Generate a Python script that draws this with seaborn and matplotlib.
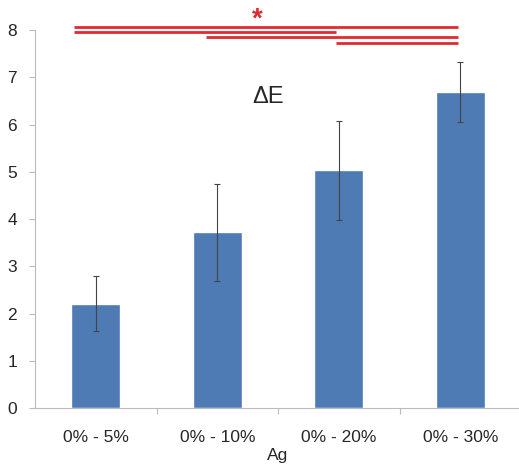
import numpy as np
import pandas as pd
import matplotlib
matplotlib.use('Agg')
import matplotlib.pyplot as plt
import seaborn as sns

# data
groups = ['0% - 5%', '0% - 10%', '0% - 20%', '0% - 30%']
delta_e = [2.21, 3.72, 5.03, 6.69]
errors = [0.58, 1.03, 1.05, 0.64]

# significance bars: (start, end, height)
sig_start = [-0.18, -0.18, 0.91, 1.98]
sig_end = [2.98, 1.98, 2.98, 2.98]
sig_y = [8.06, 7.96, 7.85, 7.73]

sns.set_style('white')
plt.rcParams['font.family'] = ['Liberation Sans', 'DejaVu Sans']

df = pd.DataFrame({'group': groups, 'dE': delta_e})

fig = plt.figure(figsize=(5.19, 4.66), dpi=100)
ax = fig.add_axes([35 / 519, 58 / 466, 486 / 519, 378 / 466])

sns.barplot(data=df, x='group', y='dE', color='#4e7bb3', saturation=1,
            width=0.4, errorbar=None, ax=ax)
ax.errorbar(np.arange(len(groups)), delta_e, yerr=errors, fmt='none',
            ecolor='#444444', elinewidth=0.8, capsize=2, capthick=0.8)

ax.set_xlim(-0.5, 3.5)
ax.set_ylim(0, 8)
ax.set_yticks(range(0, 9))
ax.set_xticks(np.arange(len(groups)))
ax.set_xticklabels(groups)
ax.set_xticks([0.5, 1.5, 2.5], minor=True)
ax.tick_params(axis='x', which='major', length=0, pad=16, labelsize=12.5)
ax.tick_params(axis='x', which='minor', length=4, color='#bbbbbb', width=0.8, direction='out')
ax.tick_params(axis='y', length=4, color='#bbbbbb', width=0.8, labelsize=12.5,
               direction='out', pad=9)
ax.xaxis.set_tick_params(bottom=True, which='minor')
ax.yaxis.set_tick_params(left=True)

for s in ['top', 'right']:
    ax.spines[s].set_visible(False)
for s in ['left', 'bottom']:
    ax.spines[s].set_color('#bbbbbb')
    ax.spines[s].set_linewidth(0.8)

ax.set_xlabel('Ag', fontsize=12.5, labelpad=2)
ax.set_ylabel('')

for x0, x1, y in zip(sig_start, sig_end, sig_y):
    ax.plot([x0, x1], [y, y], color='#e02a2f', lw=2, clip_on=False,
            solid_capstyle='butt')
ax.text(1.33, 7.94, '*', color='#e02a2f', fontsize=20, fontweight='bold',
        ha='center', va='bottom', clip_on=False)
ax.text(1.42, 6.58, 'ΔE', fontsize=17, ha='center', va='center')

fig.savefig('out.png', dpi=100)
